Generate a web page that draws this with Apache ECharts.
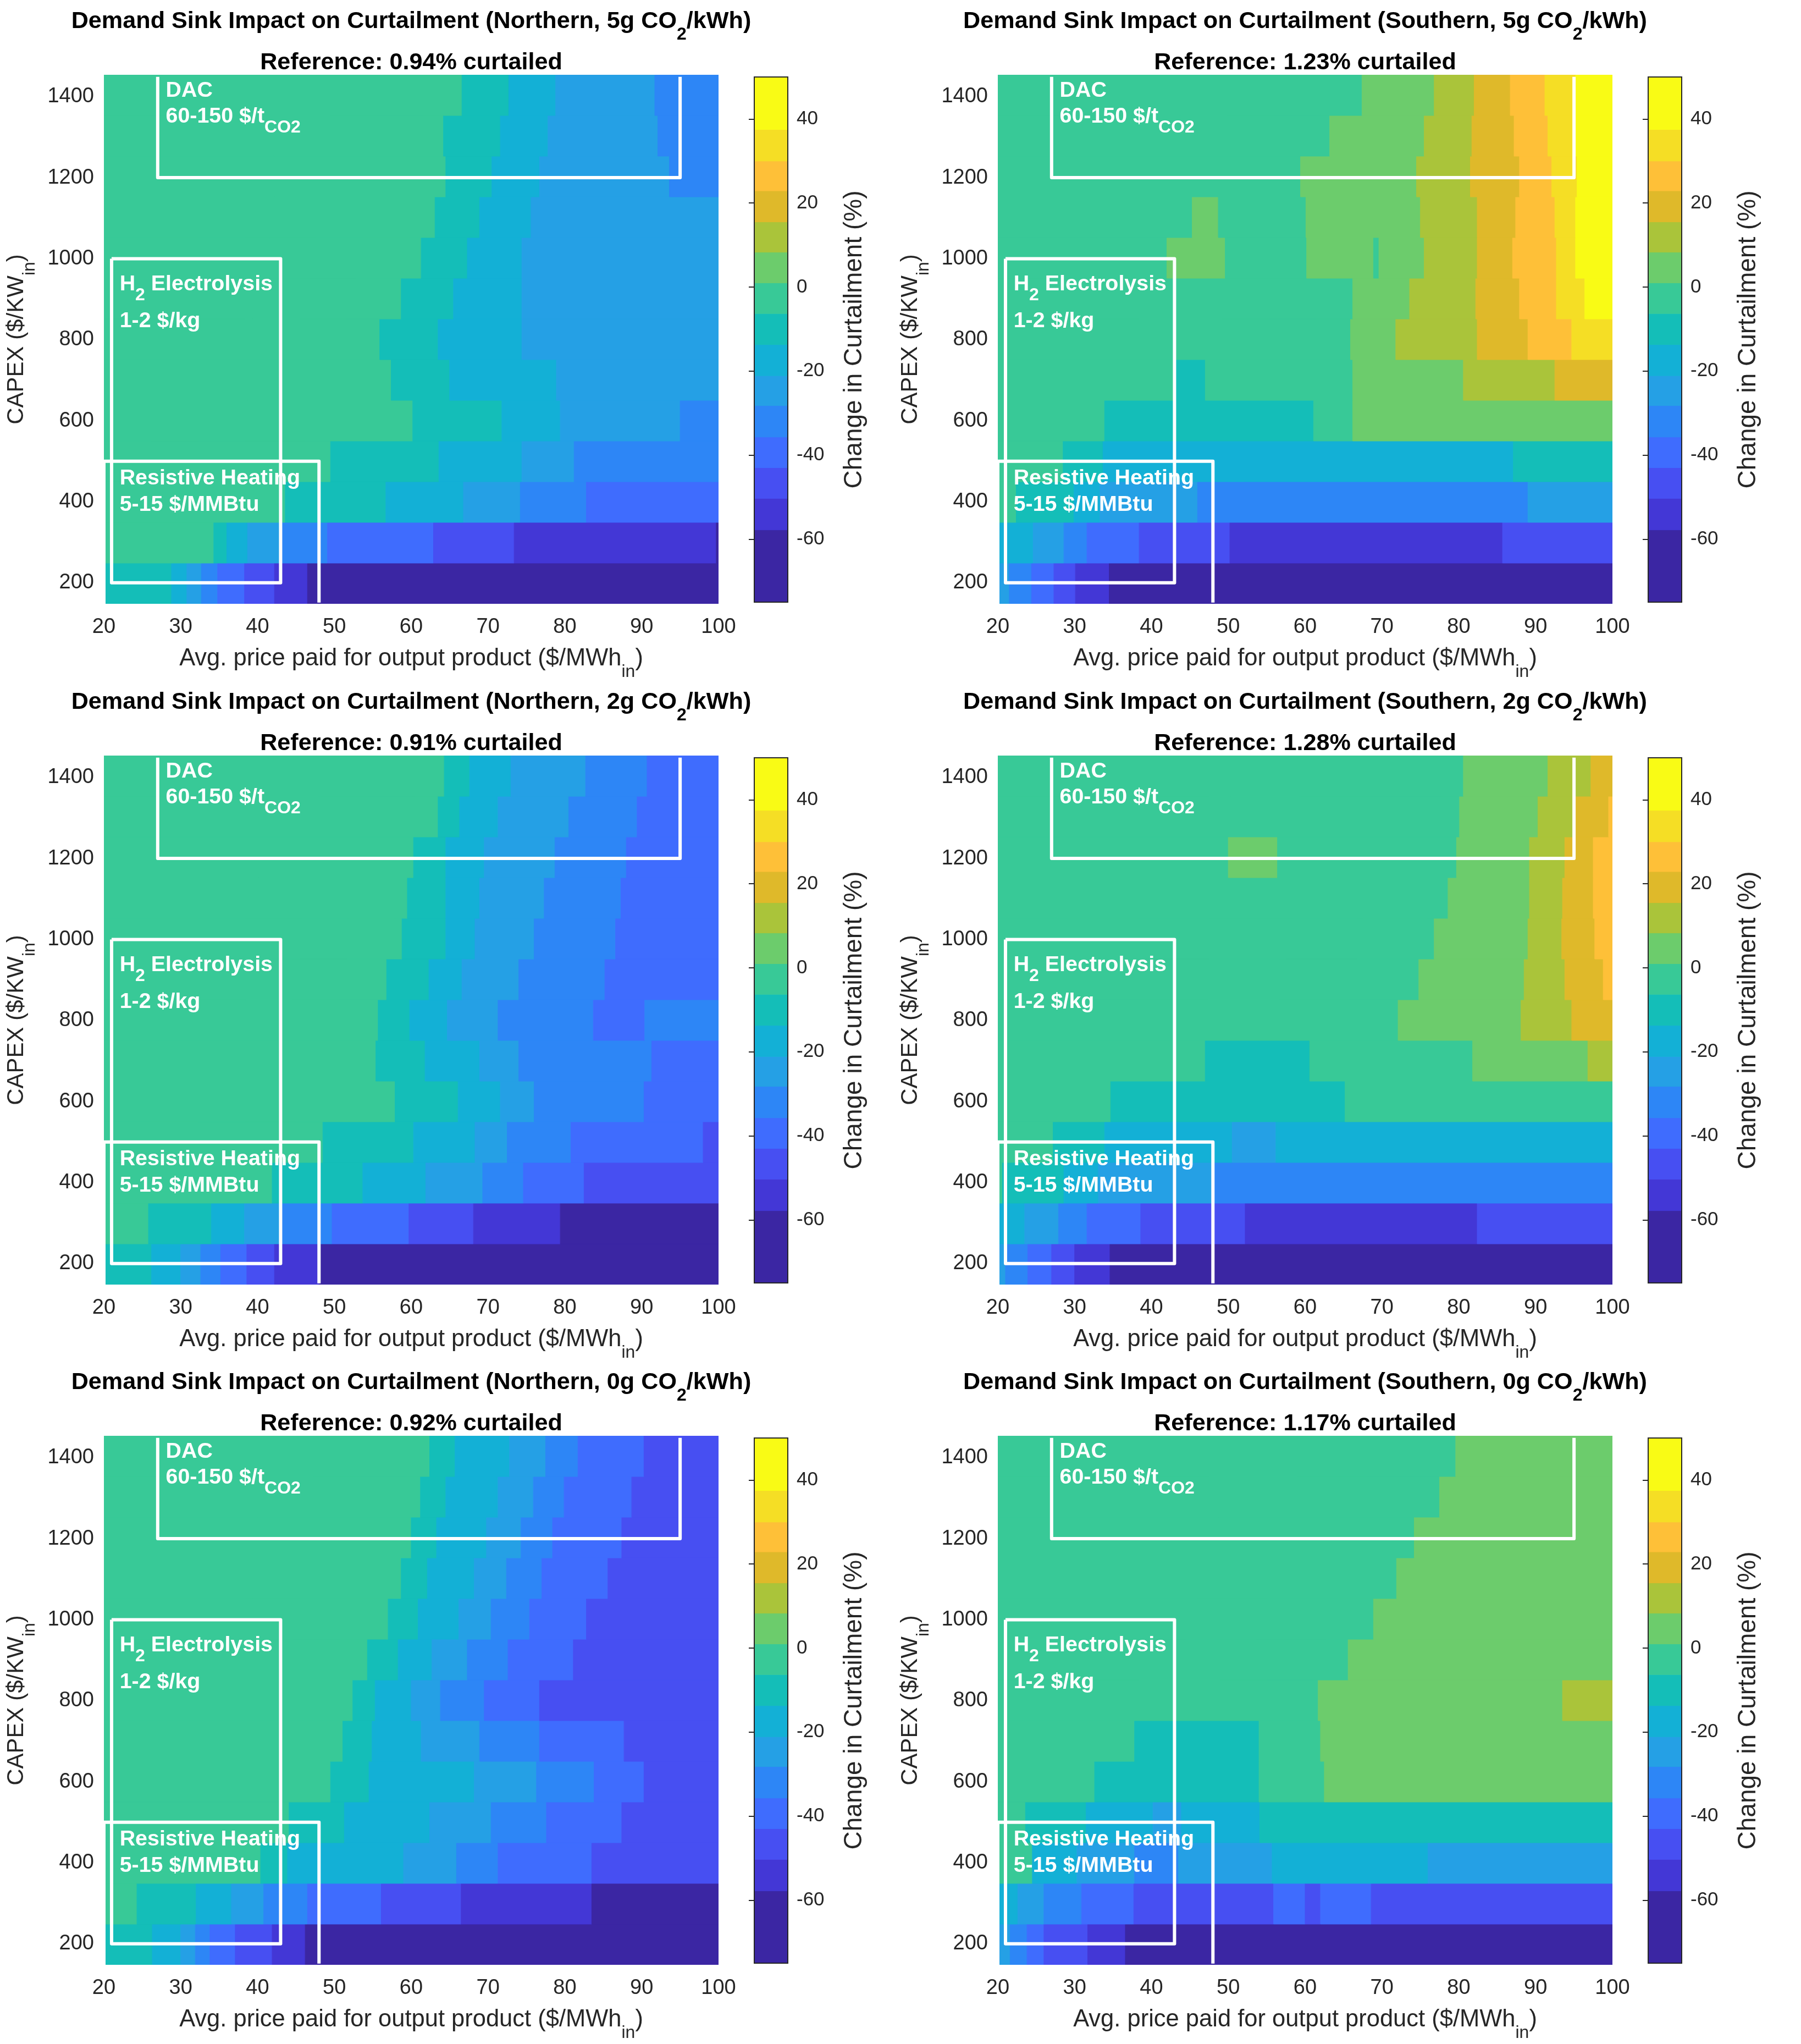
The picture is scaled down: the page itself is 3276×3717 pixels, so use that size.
<!DOCTYPE html>
<html>
<head>
<meta charset="utf-8">
<style>html,body{margin:0;padding:0;background:#fff}#chart{width:3276px;height:3717px}</style>
<script src="https://cdn.jsdelivr.net/npm/echarts@6/dist/echarts.min.js"></script>
</head>
<body>
<div id="chart"></div>
<script>
// Shared axis values
const capexEdges = [148, 248.5, 349, 449.4, 549.9, 650.3, 750.8, 851.2, 951.7, 1052.2, 1152.6, 1253.1, 1353.5, 1454];
const capexTicks = [200, 400, 600, 800, 1000, 1200, 1400];
const colorbarTicks = [-60, -40, -20, 0, 20, 40];
const bandLimits = [-75, -57.8, -50.3, -43, -35.7, -28.2, -21.1, -13.7, -6.3, 1, 8.3, 15.5, 22.9, 30, 37.5, 50];
const bandColors = ['#3B26A3', '#4337D6', '#474FF2', '#3F6CFE', '#2D86F6', '#25A0E5', '#13B0D6', '#14BEB8', '#38C997', '#6CCC6C', '#AAC43A', '#DFB92A', '#FEC038', '#F5DE25', '#F9FB15'];

// Each row (CAPEX low -> high): edges along price axis, and curtailment change of each run
const north5Edges = [
  [20, 28.8, 30.8, 32.7, 34.8, 38.3, 42.2, 46.5, 100],
  [20, 34.3, 36, 38.7, 43.1, 49.1, 62.9, 73.4, 99.7, 100],
  [20, 43.6, 56.7, 66.8, 74.2, 82.8, 100],
  [20, 49.5, 63.6, 74.4, 81.2, 100],
  [20, 60.2, 71.8, 79.4, 95, 100],
  [20, 57.4, 65, 78.9, 100],
  [20, 55.9, 63.5, 74.4, 100],
  [20, 58.7, 65.5, 74.4, 100],
  [20, 61.3, 67.3, 74.4, 100],
  [20, 63.1, 68.9, 75.6, 100],
  [20, 64.5, 70.5, 76.7, 93.6, 100],
  [20, 64.2, 71.6, 77.8, 92.1, 100],
  [20, 66.6, 72.7, 78.8, 91.7, 100]
];
const north5Values = [
  [-10, -17, -25, -32, -39, -47, -54, -66],
  [-3, -10, -17, -25, -32, -39, -47, -54, -66],
  [-3, -10, -17, -25, -32, -39],
  [-3, -10, -17, -25, -32],
  [-3, -10, -17, -25, -32],
  [-3, -10, -17, -25],
  [-3, -10, -17, -25],
  [-3, -10, -17, -25],
  [-3, -10, -17, -25],
  [-3, -10, -17, -25],
  [-3, -10, -17, -25, -32],
  [-3, -10, -17, -25, -32],
  [-3, -10, -17, -25, -32]
];
const south5Edges = [
  [20, 21.5, 24.4, 27.3, 30.1, 34.5, 100],
  [20, 24.6, 28.6, 31.6, 38.4, 50.2, 85.7, 100],
  [20, 22.4, 29.9, 33.3, 46, 89, 100],
  [20, 28.5, 33.7, 87.1, 100],
  [20, 33.9, 61.1, 66.2, 100],
  [20, 43.1, 47, 66.2, 80.6, 92.5, 100],
  [20, 65.9, 71.8, 82.4, 89, 94.7, 100],
  [20, 66.2, 73.6, 82.2, 87.9, 92.7, 96.4, 100],
  [20, 42, 49.6, 60.2, 68.9, 69.6, 75.5, 82.4, 87, 92.7, 95.2, 100],
  [20, 45.3, 48.7, 60.1, 75, 82.4, 87.4, 92.5, 95.2, 100],
  [20, 59.4, 74.5, 81.5, 87.9, 92.1, 95.4, 100],
  [20, 63.2, 75.5, 81.7, 87.2, 91.6, 95.2, 100],
  [20, 67.4, 76.8, 82, 86.7, 91.2, 95.2, 100]
];
const south5Values = [
  [-25, -32, -39, -47, -54, -66],
  [-17, -25, -32, -39, -47, -54, -47],
  [-3, -10, -17, -25, -32, -25],
  [-3, -10, -17, -10],
  [-3, -10, -3, 5],
  [-3, -10, -3, 5, 12, 19],
  [-3, 5, 12, 19, 26, 34],
  [-3, 5, 12, 19, 26, 34, 44],
  [-3, 5, -3, 5, -3, 5, 12, 19, 26, 34, 44],
  [-3, 5, -3, 5, 12, 19, 26, 34, 44],
  [-3, 5, 12, 19, 26, 34, 44],
  [-3, 5, 12, 19, 26, 34, 44],
  [-3, 5, 12, 19, 26, 34, 44]
];
const north2Edges = [
  [20, 26.2, 30, 32.6, 35.2, 38.6, 42.2, 48, 100],
  [20, 25.8, 34, 38.3, 43, 49.7, 59.7, 68.1, 79.4, 100],
  [20, 41.9, 53.7, 61.9, 69.3, 74.6, 82.5, 100],
  [20, 48.5, 60.3, 68.3, 72.5, 80.8, 98, 100],
  [20, 57.9, 66.1, 71.6, 76, 90.3, 100],
  [20, 55.4, 61.8, 68.9, 74, 91.3, 100],
  [20, 55.7, 59.8, 64.7, 71.3, 83.7, 90.4, 100],
  [20, 56.8, 62.3, 66.6, 74, 85.2, 100],
  [20, 58.8, 64.5, 68.3, 76, 86.6, 100],
  [20, 59.5, 64.5, 68.9, 77.3, 87.3, 100],
  [20, 60.3, 64.5, 69.5, 78.7, 88, 100],
  [20, 63.5, 66.3, 71.3, 80.5, 89.4, 100],
  [20, 64.3, 67.6, 73, 82.7, 90.7, 100]
];
const north2Values = [
  [-10, -17, -25, -32, -39, -47, -54, -66],
  [-3, -10, -17, -25, -32, -39, -47, -54, -66],
  [-3, -10, -17, -25, -32, -39, -47],
  [-3, -10, -17, -25, -32, -39, -47],
  [-3, -10, -17, -25, -32, -39],
  [-3, -10, -17, -25, -32, -39],
  [-3, -10, -17, -25, -32, -39, -32],
  [-3, -10, -17, -25, -32, -39],
  [-3, -10, -17, -25, -32, -39],
  [-3, -10, -17, -25, -32, -39],
  [-3, -10, -17, -25, -32, -39],
  [-3, -10, -17, -25, -32, -39],
  [-3, -10, -17, -25, -32, -39]
];
const south2Edges = [
  [20, 21, 23.9, 27, 30, 34.6, 100],
  [20, 23.5, 27.9, 31.6, 38.6, 52.2, 82.4, 100],
  [20, 20.6, 28.6, 33.1, 48.2, 100],
  [20, 27.2, 33.9, 50.5, 56.2, 100],
  [20, 34.7, 65.2, 100],
  [20, 47, 60.6, 81.8, 96.8, 100],
  [20, 72.1, 88.1, 94.7, 100],
  [20, 74.8, 88.5, 93.8, 98.8, 100],
  [20, 76.8, 89, 93.4, 97.7, 100],
  [20, 78.6, 89.2, 93.5, 97.5, 100],
  [20, 50, 56.4, 79.7, 89.2, 93.8, 97.5, 100],
  [20, 80.1, 90.3, 95.2, 99.5, 100],
  [20, 80.6, 91.6, 97.2, 100]
];
const south2Values = [
  [-25, -32, -39, -47, -54, -66],
  [-17, -25, -32, -39, -47, -54, -47],
  [-3, -10, -17, -25, -32],
  [-3, -10, -17, -25, -17],
  [-3, -10, -3],
  [-3, -10, -3, 5, 12],
  [-3, 5, 12, 19],
  [-3, 5, 12, 19, 26],
  [-3, 5, 12, 19, 26],
  [-3, 5, 12, 19, 26],
  [-3, 5, -3, 5, 12, 19, 26],
  [-3, 5, 12, 19, 26],
  [-3, 5, 12, 19]
];
const north0Edges = [
  [20, 26.3, 30, 31.9, 33.8, 37.1, 41.9, 46.2, 100],
  [20, 24.3, 32, 36.6, 40.8, 46.5, 56.1, 66.5, 83.5, 100],
  [20, 40.4, 43.9, 59, 65.9, 71.3, 83.5, 100],
  [20, 44.1, 51.3, 62.4, 70.4, 77.6, 87.4, 100],
  [20, 49.5, 54.5, 68.2, 76.3, 83.8, 90.3, 100],
  [20, 51.1, 54.9, 61.3, 68.9, 76.7, 87.7, 100],
  [20, 52.4, 55.3, 60, 63.8, 69.5, 76.7, 100],
  [20, 54.3, 58.3, 62.7, 67.3, 72.6, 81.1, 100],
  [20, 57, 60.9, 66.2, 70.4, 75.4, 82.8, 100],
  [20, 58.7, 62.1, 68.2, 72.4, 77, 85.6, 100],
  [20, 60, 63.3, 69.8, 74.3, 78.4, 87.4, 100],
  [20, 61.2, 64.5, 71.3, 75.9, 79.9, 88.7, 100],
  [20, 62.4, 65.7, 72.8, 77.5, 81.7, 90.3, 100]
];
const north0Values = [
  [-10, -17, -25, -32, -39, -47, -54, -66],
  [-3, -10, -17, -25, -32, -39, -47, -54, -66],
  [-3, -10, -17, -25, -32, -39, -47],
  [-3, -10, -17, -25, -32, -39, -47],
  [-3, -10, -17, -25, -32, -39, -47],
  [-3, -10, -17, -25, -32, -39, -47],
  [-3, -10, -17, -25, -32, -39, -47],
  [-3, -10, -17, -25, -32, -39, -47],
  [-3, -10, -17, -25, -32, -39, -47],
  [-3, -10, -17, -25, -32, -39, -47],
  [-3, -10, -17, -25, -32, -39, -47],
  [-3, -10, -17, -25, -32, -39, -47],
  [-3, -10, -17, -25, -32, -39, -47]
];
const south0Edges = [
  [20, 21.6, 23.8, 26, 31.7, 36.6, 100],
  [20, 22.6, 26, 30.9, 37.7, 55.9, 60, 62, 68.6, 100],
  [20, 24.5, 30.3, 37.8, 43.5, 55.7, 76, 100],
  [20, 23.6, 31.5, 40.2, 43.9, 54.1, 100],
  [20, 32.6, 54, 62.5, 100],
  [20, 37.8, 54, 62, 100],
  [20, 61.7, 93.5, 100],
  [20, 65.6, 100],
  [20, 68.9, 100],
  [20, 71.9, 100],
  [20, 74.2, 100],
  [20, 77.5, 100],
  [20, 79.6, 100]
];
const south0Values = [
  [-25, -32, -39, -47, -54, -66],
  [-17, -25, -32, -39, -47, -39, -47, -39, -47],
  [-3, -17, -25, -32, -25, -17, -25],
  [-3, -10, -17, -25, -17, -10],
  [-3, -10, -3, 5],
  [-3, -10, -3, 5],
  [-3, 5, 12],
  [-3, 5],
  [-3, 5],
  [-3, 5],
  [-3, 5],
  [-3, 5],
  [-3, 5]
];

// Titles
const panelRegions = ['Northern', 'Southern', 'Northern', 'Southern', 'Northern', 'Southern'];
const panelIntensity = ['5g', '5g', '2g', '2g', '0g', '0g'];
const panelReference = ['0.94', '1.23', '0.91', '1.28', '0.92', '1.17'];
const panelEdges = [north5Edges, south5Edges, north2Edges, south2Edges, north0Edges, south0Edges];
const panelValues = [north5Values, south5Values, north2Values, south2Values, north0Values, south0Values];

// Demand-sink boxes in chart units
const dacBoxX = [27, 27, 95, 95];
const dacBoxY = [1449, 1200, 1200, 1449];
const h2BoxX = [21, 21, 43, 43, 21];
const h2BoxY = [1000, 200, 200, 1000, 1000];
const heatBoxX = [20, 20, 48, 48];
const heatBoxY = [148, 500, 500, 151];
const noteX = [28.05, 28.05, 22.05, 22.05, 22.05, 22.05];
const noteY = [1414, 1350, 937, 846, 458, 392];
const noteText = ['DAC', '60-150 $/t{s|CO2}', 'H{s|2} Electrolysis', '1-2 $/kg', 'Resistive Heating', '5-15 $/MMBtu'];

// Layout
const FONT = '"Liberation Sans", Arial, sans-serif';
const INK = '#262626';
const plotLefts = [189, 1815];
const plotTops = [136, 1374, 2611];
const plotW = 1118, plotH = 962;
const barLefts = [1372, 2998];
const barW = 61, barH = 955, barDy = 4;

function colorOf(v) {
  for (let i = 0; i < bandColors.length; i++) if (v < bandLimits[i + 1]) return bandColors[i];
  return bandColors[bandColors.length - 1];
}
function cellItem(params, api) {
  const a = api.coord([api.value(0), api.value(3)]);
  const b = api.coord([api.value(1), api.value(2)]);
  const c = colorOf(api.value(4));
  return { type: 'rect', shape: { x: a[0], y: a[1], width: b[0] - a[0], height: b[1] - a[1] },
           style: { fill: c, stroke: c, lineWidth: 1 } };
}
function boxSeries(idx, xs, ys) {
  return { type: 'custom', xAxisIndex: idx, yAxisIndex: idx, clip: true, z: 5, silent: true,
    data: xs.map((x, i) => [x, ys[i]]),
    renderItem: (p, api) => {
      if (p.dataIndex !== 0) return null;
      return { type: 'polyline', shape: { points: xs.map((x, i) => api.coord([x, ys[i]])) },
        style: { stroke: '#fff', lineWidth: 6, fill: null, lineJoin: 'round' } };
    }, encode: { x: 0, y: 1 } };
}

const option = { animation: false, backgroundColor: '#fff', title: [], grid: [], xAxis: [], yAxis: [], series: [] };
const subTitle = { fontFamily: FONT, fontSize: 32, fontWeight: 'bold', color: '#000', padding: [48, 0, 0, 0] };
const nameSub = { fontFamily: FONT, fontSize: 32, color: INK, padding: [48, 0, 0, 0] };

panelEdges.forEach((edges, n) => {
  const col = n % 2, row = Math.floor(n / 2);
  const L = plotLefts[col], T = plotTops[row];
  const cx = L + plotW / 2;
  const mainIdx = n * 2, barIdx = n * 2 + 1;
  option.title.push({
    text: 'Demand Sink Impact on Curtailment (' + panelRegions[n] + ', ' + panelIntensity[n] + ' CO{s|2}/kWh)',
    left: cx, top: T - 100 - 37, textAlign: 'center', padding: 0,
    textStyle: { fontFamily: FONT, fontSize: 43.2, fontWeight: 'bold', color: '#000', rich: { s: subTitle } }
  });
  option.title.push({
    text: 'Reference: ' + panelReference[n] + '% curtailed',
    left: cx, top: T - 26 - 17, textAlign: 'center', padding: 0,
    textStyle: { fontFamily: FONT, fontSize: 43.2, fontWeight: 'bold', color: '#000' }
  });
  option.grid.push({ left: L, top: T, width: plotW, height: plotH, outerBoundsMode: 'none' });
  option.grid.push({ left: barLefts[col], top: T + barDy, width: barW, height: barH, outerBoundsMode: 'none' });

  option.xAxis.push({
    gridIndex: mainIdx, type: 'value', min: 20, max: 100, interval: 10,
    name: 'Avg. price paid for output product ($/MWh{s|in})', nameLocation: 'middle', nameGap: 60,
    nameTextStyle: { fontFamily: FONT, fontSize: 43.5, color: INK, rich: { s: nameSub } },
    axisLine: { show: false }, axisTick: { show: false }, splitLine: { show: false },
    axisLabel: { fontFamily: FONT, fontSize: 38, color: INK, margin: 24 }
  });
  option.yAxis.push({
    gridIndex: mainIdx, type: 'value', min: 148, max: 1454,
    name: 'CAPEX ($/KW{s|in})', nameLocation: 'middle', nameGap: 119,
    nameTextStyle: { fontFamily: FONT, fontSize: 42, color: INK, rich: { s: nameSub } },
    axisLine: { show: false }, axisTick: { show: false }, splitLine: { show: false },
    axisLabel: { fontFamily: FONT, fontSize: 38, color: INK, margin: 18, padding: [5, 0, 0, 0], customValues: capexTicks, formatter: v => String(v) }
  });
  option.xAxis.push({ gridIndex: barIdx, type: 'value', min: 0, max: 1, show: false });
  option.yAxis.push({
    gridIndex: barIdx, type: 'value', position: 'right', min: -75, max: 50, z: 6,
    name: 'Change in Curtailment (%)', nameLocation: 'middle', nameGap: 98, nameRotate: 90,
    nameTextStyle: { fontFamily: FONT, fontSize: 46, color: INK },
    axisLine: { show: false }, splitLine: { show: false },
    axisTick: { show: true, inside: true, length: 10, customValues: colorbarTicks, lineStyle: { color: INK, width: 2 } },
    axisLabel: { fontFamily: FONT, fontSize: 35, color: INK, margin: 16, padding: [5, 0, 0, 0], customValues: colorbarTicks, formatter: v => String(v) }
  });

  const cells = [];
  edges.forEach((rowEdges, r) => {
    panelValues[n][r].forEach((v, k) => {
      cells.push([rowEdges[k], rowEdges[k + 1], capexEdges[r], capexEdges[r + 1], v]);
    });
  });
  option.series.push({ type: 'custom', name: 'curtailment', xAxisIndex: mainIdx, yAxisIndex: mainIdx, clip: true, z: 2,
    silent: true, data: cells, encode: { x: [0, 1], y: [2, 3] }, renderItem: cellItem });
  option.series.push(boxSeries(mainIdx, dacBoxX, dacBoxY));
  option.series.push(boxSeries(mainIdx, h2BoxX, h2BoxY));
  option.series.push(boxSeries(mainIdx, heatBoxX, heatBoxY));
  option.series.push({ type: 'custom', xAxisIndex: mainIdx, yAxisIndex: mainIdx, z: 7, silent: true,
    data: noteX.map((x, i) => [x, noteY[i]]), encode: { x: 0, y: 1 },
    renderItem: (p, api) => {
      const c = api.coord([api.value(0), api.value(1)]);
      return { type: 'text', x: c[0], y: c[1], style: {
        text: noteText[p.dataIndex], fill: '#fff', font: 'bold 39.4px ' + FONT, verticalAlign: 'middle', align: 'left',
        rich: { s: { fill: '#fff', font: 'bold 32px ' + FONT, padding: [40, 0, 0, 0] } } } };
    } });

  const bands = bandColors.map((c, i) => [0, 1, bandLimits[i], bandLimits[i + 1], (bandLimits[i] + bandLimits[i + 1]) / 2]);
  option.series.push({ type: 'custom', xAxisIndex: barIdx, yAxisIndex: barIdx, z: 2, silent: true, clip: true,
    data: bands, encode: { x: [0, 1], y: [2, 3] }, renderItem: cellItem });
  option.series.push({ type: 'custom', xAxisIndex: barIdx, yAxisIndex: barIdx, z: 4, silent: true,
    data: [[0, 1, -75, 50]], encode: { x: [0, 1], y: [2, 3] },
    renderItem: (p, api) => {
      const a = api.coord([api.value(0), api.value(3)]);
      const b = api.coord([api.value(1), api.value(2)]);
      return { type: 'rect', shape: { x: a[0], y: a[1], width: b[0] - a[0], height: b[1] - a[1] },
        style: { fill: null, stroke: INK, lineWidth: 2 } };
    } });
});

const chart = echarts.init(document.getElementById('chart'), null, { renderer: 'canvas', width: 3276, height: 3717 });
chart.setOption(option);
</script>
</body>
</html>
